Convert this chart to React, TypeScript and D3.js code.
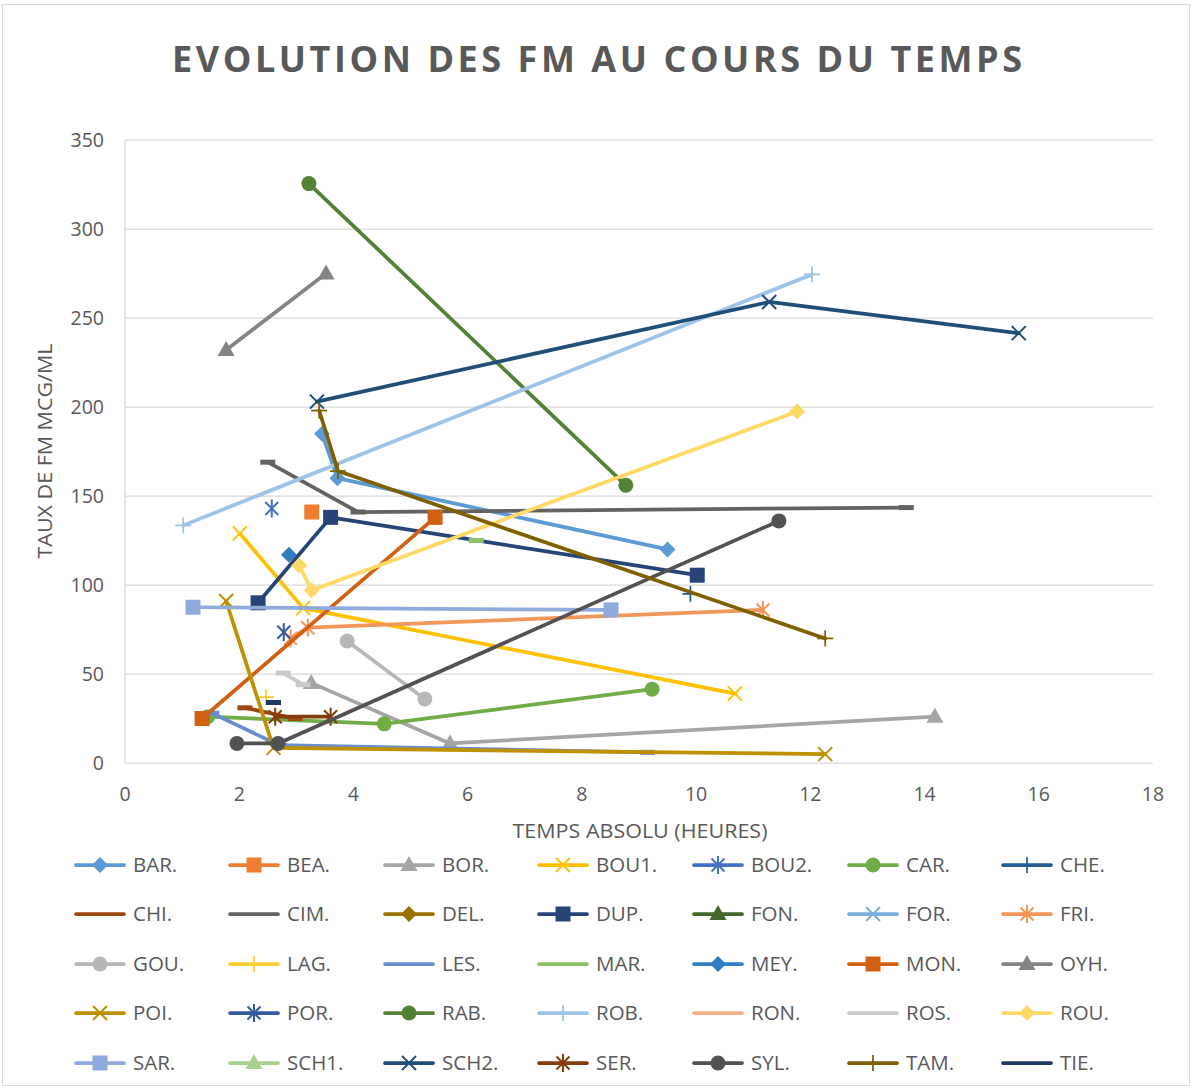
import React from "react";
import * as d3 from "d3";

// ---------- DATA ----------
const NAMES = [
  "BAR.", "BEA.", "BOR.", "BOU1.", "BOU2.", "CAR.", "CHE.",
  "CHI.", "CIM.", "DEL.", "DUP.", "FON.", "FOR.", "FRI.",
  "GOU.", "LAG.", "LES.", "MAR.", "MEY.", "MON.", "OYH.",
  "POI.", "POR.", "RAB.", "ROB.", "RON.", "ROS.", "ROU.",
  "SAR.", "SCH1.", "SCH2.", "SER.", "SYL.", "TAM.", "TIE.",
];

const BAR = [[3.45, 185], [3.72, 160], [9.5, 120]];
const BEA = [[3.27, 141]];
const BOR = [[3.26, 45], [5.69, 11], [14.18, 26]];
const BOU1 = [[2.01, 129], [3.12, 87], [10.68, 39]];
const BOU2 = [[2.57, 143]];
const CAR = [[1.45, 26], [4.54, 22], [9.23, 41.5]];
const CHE = [[9.9, 95]];
const CHI = [[2.1, 31], [2.98, 25]];
const CIM = [[2.5, 169], [4.08, 141], [13.68, 143.5]];
const DEL: number[][] = [];
const DUP = [[2.33, 90], [3.6, 138], [10.02, 105.5]];
const FON: number[][] = [];
const FOR: number[][] = [];
const FRI = [[2.9, 70], [3.2, 76], [11.17, 86]];
const GOU = [[3.89, 68.5], [5.25, 36]];
const LAG = [[2.47, 37]];
const LES = [[1.52, 28], [2.7, 10], [9.15, 6]];
const MAR = [[6.15, 125]];
const MEY = [[2.87, 117]];
const MON = [[1.35, 25], [5.43, 138]];
const OYH = [[1.77, 232], [3.52, 275]];
const POI = [[1.77, 91], [2.6, 8.5], [12.26, 5]];
const POR = [[2.78, 73.5]];
const RAB = [[3.22, 325.5], [8.77, 156]];
const ROB = [[1.02, 133.5], [12.03, 274.5]];
const RON: number[][] = [];
const ROS = [[2.77, 50.5], [3.12, 44]];
const ROU = [[3.05, 111], [3.27, 97], [11.77, 197.5]];
const SAR = [[1.19, 87.5], [8.51, 86]];
const SCH1: number[][] = [];
const SCH2 = [[3.36, 203], [11.28, 259], [15.65, 241.5]];
const SER = [[2.63, 26], [3.6, 26]];
const SYL = [[1.96, 11], [2.68, 11], [11.45, 136]];
const TAM = [[3.4, 198], [3.73, 164], [12.26, 70]];
const TIE = [[2.6, 34]];

const DATA = [
  BAR, BEA, BOR, BOU1, BOU2, CAR, CHE,
  CHI, CIM, DEL, DUP, FON, FOR, FRI,
  GOU, LAG, LES, MAR, MEY, MON, OYH,
  POI, POR, RAB, ROB, RON, ROS, ROU,
  SAR, SCH1, SCH2, SER, SYL, TAM, TIE,
];

const X_TICKS = [0, 2, 4, 6, 8, 10, 12, 14, 16, 18];
const Y_TICKS = [0, 50, 100, 150, 200, 250, 300, 350];

// ---------- STYLE ----------
const COLORS = [
  "#5B9BD5", "#ED7D31", "#A5A5A5", "#FFC000", "#4472C4", "#70AD47", "#255E91",
  "#9E480E", "#636363", "#997300", "#264478", "#43682B", "#7CAFDD", "#F1975A",
  "#B7B7B7", "#FFCD33", "#698ED0", "#8CC168", "#327DC2", "#D26012", "#848484",
  "#BF9000", "#335AA1", "#548235", "#9DC3E6", "#F4B183", "#C9C9C9", "#FFD966",
  "#8FAADC", "#A9D18E", "#1F4E79", "#843C0C", "#525252", "#7F6000", "#203864",
];
const MARKER_LIST = [
  "diamond", "square", "triangle", "x", "asterisk", "circle", "plus",
  "dash", "dash", "diamond", "square", "triangle", "x", "asterisk",
  "circle", "plus", "dash", "dash", "diamond", "square", "triangle",
  "x", "asterisk", "circle", "plus", "dash", "dash", "diamond",
  "square", "triangle", "x", "asterisk", "circle", "plus", "dash",
];

const W = 1193;
const H = 1088;
const FONT = "'Open Sans', 'Liberation Sans', sans-serif";
const TEXT = "#595959";

function Marker({ type, color, x, y }: { type: string; color: string; x: number; y: number }) {
  switch (type) {
    case "diamond":
      return <path d={`M${x},${y - 8}L${x + 8},${y}L${x},${y + 8}L${x - 8},${y}Z`} fill={color} />;
    case "square":
      return <rect x={x - 7.5} y={y - 7.5} width={15} height={15} fill={color} />;
    case "triangle":
      return <path d={`M${x},${y - 9}L${x + 8.5},${y + 6}L${x - 8.5},${y + 6}Z`} fill={color} />;
    case "x":
      return (
        <g stroke={color} strokeWidth={2}>
          <line x1={x - 7} y1={y - 7} x2={x + 7} y2={y + 7} />
          <line x1={x - 7} y1={y + 7} x2={x + 7} y2={y - 7} />
        </g>
      );
    case "asterisk":
      return (
        <g stroke={color} strokeWidth={2}>
          <line x1={x - 6.5} y1={y - 6.5} x2={x + 6.5} y2={y + 6.5} />
          <line x1={x - 6.5} y1={y + 6.5} x2={x + 6.5} y2={y - 6.5} />
          <line x1={x} y1={y - 9} x2={x} y2={y + 9} />
        </g>
      );
    case "circle":
      return <circle cx={x} cy={y} r={7.5} fill={color} />;
    case "plus":
      return (
        <g stroke={color} strokeWidth={1.75}>
          <line x1={x - 8} y1={y} x2={x + 8} y2={y} />
          <line x1={x} y1={y - 8} x2={x} y2={y + 8} />
        </g>
      );
    case "dash":
      return <rect x={x - 7.5} y={y - 2.5} width={15} height={5} fill={color} />;
    default:
      return null;
  }
}

export default function App() {
  const x = d3.scaleLinear().domain([0, 18]).range([125, 1153]);
  const y = d3.scaleLinear().domain([0, 350]).range([763, 140]);
  const line = d3
    .line<number[]>()
    .x((d) => x(d[0]))
    .y((d) => y(d[1]));

  const legendCols = [76, 230, 385, 539, 694, 849, 1003];
  const legendRows = [865, 914, 964, 1013, 1063];

  return (
    <svg
      width={W}
      height={H}
      style={{ position: "absolute", left: 0, top: 0, background: "#fff" }}
      fontFamily={FONT}
    >
      <rect x={0} y={0} width={W} height={H} fill="#fff" />
      <rect x={2.5} y={4.5} width={1187} height={1081} fill="none" stroke="#D9D9D9" strokeWidth={1} />

      {/* title */}
      <text
        x={597}
        y={72}
        textAnchor="middle"
        fontSize={36}
        fontWeight={700}
        fill={TEXT}
        textLength={850}
        lengthAdjust="spacing"
      >
        EVOLUTION DES FM AU COURS DU TEMPS
      </text>

      {/* gridlines */}
      {Y_TICKS.map((t) =>
        t === 0 ? null : (
          <line key={t} x1={x(0)} x2={x(18)} y1={y(t)} y2={y(t)} stroke="#D9D9D9" strokeWidth={1.25} />
        )
      )}
      <line x1={x(0)} x2={x(0)} y1={y(350)} y2={y(0)} stroke="#D9D9D9" strokeWidth={1.25} />
      <line x1={x(0)} x2={x(18)} y1={y(0)} y2={y(0)} stroke="#D9D9D9" strokeWidth={1.25} />

      {/* y ticks */}
      {Y_TICKS.map((t) => (
        <text key={t} x={104} y={y(t)} dy="0.35em" textAnchor="end" fontSize={19.5} fill={TEXT}>
          {t}
        </text>
      ))}
      {/* x ticks */}
      {X_TICKS.map((t) => (
        <text key={t} x={x(t)} y={794} dy="0.35em" textAnchor="middle" fontSize={19.5} fill={TEXT}>
          {t}
        </text>
      ))}

      {/* axis titles */}
      <text
        transform={`translate(45,451) rotate(-90)`}
        textAnchor="middle"
        dy="0.35em"
        fontSize={20}
        fill={TEXT}
        textLength={215}
        lengthAdjust="spacingAndGlyphs"
      >
        TAUX DE FM MCG/ML
      </text>
      <text
        x={640}
        y={831}
        dy="0.35em"
        textAnchor="middle"
        fontSize={20}
        fill={TEXT}
        textLength={255}
        lengthAdjust="spacingAndGlyphs"
      >
        TEMPS  ABSOLU (HEURES)
      </text>

      {/* series */}
      {DATA.map((pts, i) => (
        <g key={NAMES[i]}>
          {pts.length > 1 && (
            <path
              d={line(pts) || ""}
              fill="none"
              stroke={COLORS[i]}
              strokeWidth={3.75}
              strokeLinejoin="round"
              strokeLinecap="round"
            />
          )}
          {pts.map((p, j) => (
            <Marker key={j} type={MARKER_LIST[i]} color={COLORS[i]} x={x(p[0])} y={y(p[1])} />
          ))}
        </g>
      ))}

      {/* legend */}
      {NAMES.map((n, i) => {
        const lx = legendCols[i % 7];
        const ly = legendRows[Math.floor(i / 7)];
        return (
          <g key={n}>
            <line x1={lx} x2={lx + 48} y1={ly} y2={ly} stroke={COLORS[i]} strokeWidth={3.75} strokeLinecap="round" />
            {MARKER_LIST[i] !== "dash" && (
              <Marker type={MARKER_LIST[i]} color={COLORS[i]} x={lx + 24} y={ly} />
            )}
            <text x={lx + 57} y={ly} dy="0.36em" fontSize={20.5} fill={TEXT}>
              {n}
            </text>
          </g>
        );
      })}
    </svg>
  );
}
